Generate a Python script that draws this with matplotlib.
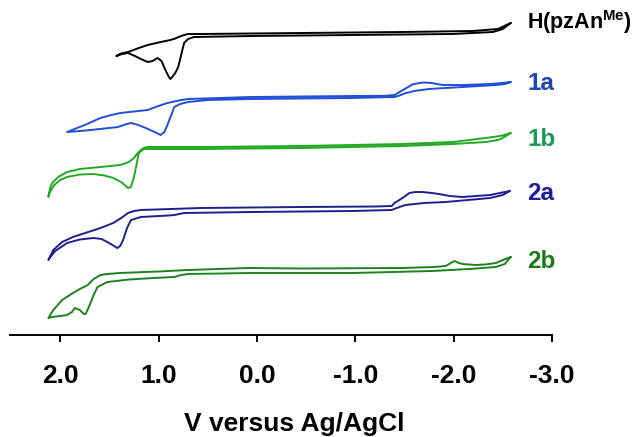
import numpy as np
import matplotlib.pyplot as plt

plt.rcParams['font.family'] = ['Liberation Sans', 'DejaVu Sans']
plt.rcParams['mathtext.fontset'] = 'custom'
plt.rcParams['mathtext.rm'] = 'Liberation Sans:bold'
plt.rcParams['mathtext.bf'] = 'Liberation Sans:bold'
plt.rcParams['mathtext.it'] = 'Liberation Sans:bold'

# potentials (V vs Ag/AgCl) and currents (arb. units), each a closed loop
# H(pzAnMe)
v_h = [-2.58, -2.45, -2.19, -1.48, -0.45, 0.57, 0.70, 0.74, 0.77, 0.83, 0.88, 1.00, 1.11, 1.20, 1.31, 1.38, 1.43,
       1.37, 1.31, 1.24, 1.18, 1.11, 1.06, 1.01, 0.97, 0.93, 0.90, 0.88, 0.86, 0.83, 0.80, 0.77, 0.74, 0.70, 0.64,
       0.06, -0.97, -1.99, -2.40, -2.50, -2.58]
i_h = [1.2, 0.6, 0.4, 0.3, 0.2, 0.1, 0.1, 0.0, -0.1, -0.35, -0.5, -0.75, -1.0, -1.3, -1.7, -1.85, -2.1,
       -1.9, -1.8, -2.1, -2.4, -2.7, -2.6, -2.3, -2.6, -3.5, -4.1, -4.4, -4.2, -3.8, -3.2, -2.0, -0.8, -0.4, -0.2,
       -0.1, 0.0, 0.1, 0.3, 0.6, 1.2]

# 1a
v_1a = [-2.58, -2.47, -2.37, -2.09, -1.89, -1.83, -1.78, -1.70, -1.65, -1.58, -1.52, -1.45, -1.40, -1.30, -0.97,
        0.06, 0.70, 0.77, 0.84, 0.91, 1.00, 1.11, 1.25, 1.39, 1.50, 1.59, 1.75, 1.93,
        1.80, 1.69, 1.55, 1.41, 1.34, 1.28, 1.22, 1.13, 1.04, 0.98, 0.94, 0.91, 0.87, 0.84, 0.78, 0.70, 0.50,
        0.06, -0.97, -1.40, -1.45, -1.50, -1.60, -1.75, -2.09, -2.43, -2.52, -2.58]
i_1a = [1.5, 1.38, 1.3, 1.2, 1.2, 1.3, 1.4, 1.45, 1.4, 1.25, 0.9, 0.5, 0.2, 0.12, 0.1,
        0.0, -0.2, -0.3, -0.45, -0.6, -0.9, -1.3, -1.45, -1.6, -1.85, -2.1, -2.8, -3.5,
        -3.4, -3.3, -3.15, -3.0, -2.75, -2.6, -2.75, -3.1, -3.5, -3.8, -3.5, -2.8, -1.8, -1.0, -0.7, -0.5, -0.3,
        -0.2, -0.1, 0.0, 0.15, 0.35, 0.6, 0.8, 1.0, 1.2, 1.3, 1.5]

# 1b
v_1b = [-2.58, -2.50, -2.40, -2.28, -2.16, -1.99, -1.48, -0.45, 0.57, 1.11, 1.15, 1.18, 1.22, 1.25, 1.30, 1.39,
        1.59, 1.80, 1.93, 2.02, 2.08, 2.10, 2.12,
        2.11, 2.06, 2.00, 1.93, 1.80, 1.66, 1.55, 1.46, 1.38, 1.31, 1.28, 1.25, 1.22, 1.20, 1.15,
        0.57, -0.45, -1.48, -1.99, -2.33, -2.45, -2.50, -2.58]
i_1b = [1.4, 1.15, 1.0, 0.85, 0.7, 0.5, 0.3, 0.1, 0.0, 0.0, -0.1, -0.3, -0.7, -1.1, -1.5, -1.8,
        -2.0, -2.2, -2.5, -3.0, -3.6, -4.0, -5.0,
        -4.6, -3.8, -3.3, -3.0, -2.75, -2.7, -2.85, -3.1, -3.5, -4.1, -4.0, -3.0, -1.6, -0.6, -0.2,
        -0.2, -0.1, 0.1, 0.3, 0.5, 0.7, 0.9, 1.4]

# 2a
v_2a = [-2.57, -2.47, -2.37, -2.09, -1.96, -1.85, -1.78, -1.68, -1.61, -1.55, -1.48, -1.40, -1.37, -1.20,
        -0.45, 0.57, 1.18, 1.25, 1.31, 1.38, 1.46, 1.59, 1.73, 1.87, 1.98, 2.07, 2.12,
        2.10, 2.05, 1.93, 1.80, 1.66, 1.58, 1.52, 1.46, 1.42, 1.39, 1.36, 1.32, 1.28, 1.18, 0.90, 0.84, 0.74,
        0.06, -0.97, -1.37, -1.45, -1.51, -1.70, -1.92, -2.37, -2.50, -2.57]
i_2a = [1.7, 1.5, 1.3, 1.1, 1.2, 1.4, 1.5, 1.6, 1.6, 1.5, 1.0, 0.5, 0.2, 0.15,
        0.1, 0.0, -0.2, -0.3, -0.5, -1.0, -1.5, -2.0, -2.45, -2.9, -3.4, -4.2, -5.2,
        -4.9, -4.3, -3.5, -3.15, -3.0, -3.1, -3.4, -3.75, -4.0, -3.8, -3.2, -2.0, -1.2, -0.9, -0.75, -0.7, -0.5,
        -0.4, -0.3, -0.2, 0.1, 0.3, 0.5, 0.6, 1.0, 1.3, 1.7]

# 2b
v_2b = [-2.58, -2.50, -2.43, -2.32, -2.22, -2.09, -2.04, -2.01, -1.97, -1.92, -1.80, -1.48, -0.45, 0.09,
        0.70, 1.00, 1.39, 1.52, 1.59, 1.66, 1.72, 1.80, 1.87, 1.98, 2.07, 2.12,
        2.08, 2.00, 1.93, 1.88, 1.85, 1.80, 1.76, 1.74, 1.70, 1.66, 1.62, 1.52, 1.30, 1.05, 0.84, 0.77, 0.70,
        0.06, -0.97, -1.78, -2.16, -2.43, -2.52, -2.58]
i_2b = [1.3, 1.0, 0.7, 0.55, 0.5, 0.6, 0.75, 0.9, 0.7, 0.4, 0.3, 0.2, 0.15, 0.2,
        0.0, -0.15, -0.3, -0.4, -0.5, -0.9, -1.5, -1.9, -2.3, -3.0, -4.0, -4.8,
        -4.7, -4.6, -4.5, -4.2, -3.8, -4.0, -4.4, -4.4, -3.5, -2.5, -1.7, -1.2, -0.95, -0.8, -0.7, -0.5, -0.4,
        -0.3, -0.3, -0.1, 0.1, 0.3, 0.6, 1.3]

names = ['H(pzAn$^{Me}$)', '1a', '1b', '2a', '2b']
offsets = [-3.5, -9.7, -14.7, -20.8, -27.0]
line_colors = ['black', '#2050d8', '#22aa22', '#1f1f8f', '#1f801f']
label_colors = ['black', '#1f45b5', '#1a9a5a', '#1c1c9c', '#1a7a1a']
label_y = [-2.2, -8.3, -13.9, -19.3, -26.2]

traces = [(v_h, i_h), (v_1a, i_1a), (v_1b, i_1b), (v_2a, i_2a), (v_2b, i_2b)]

fig = plt.figure(figsize=(6.36, 4.37), dpi=100)
ax = fig.add_axes([10 / 636, 1 - 335 / 437, 542 / 636, 335 / 437])

for k, (v, i) in enumerate(traces):
    ax.plot(v, np.array(i) + offsets[k], color=line_colors[k], lw=1.4,
            solid_joinstyle='round', solid_capstyle='round')
    fs = 15.5 if k == 0 else 17.5
    ax.text(-2.75, label_y[k], names[k], color=label_colors[k], fontsize=fs,
            fontweight='bold', ha='left', va='center', clip_on=False)

ax.set_xlim(2.51, -3.0)
ax.set_ylim(-33.5, 0)
ax.set_xticks([2.0, 1.0, 0.0, -1.0, -2.0, -3.0])
ax.set_xticklabels(['2.0', '1.0', '0.0', '-1.0', '-2.0', '-3.0'], fontweight='bold', fontsize=19)
ax.tick_params(axis='x', length=5, width=1.4, pad=16)
ax.set_yticks([])
for s in ['left', 'right', 'top']:
    ax.spines[s].set_visible(False)
ax.spines['bottom'].set_linewidth(1.4)
ax.set_xlabel('V versus Ag/AgCl', fontsize=19, fontweight='bold')
ax.xaxis.set_label_coords(0.524, -0.23)

plt.savefig('out.png', dpi=100)
